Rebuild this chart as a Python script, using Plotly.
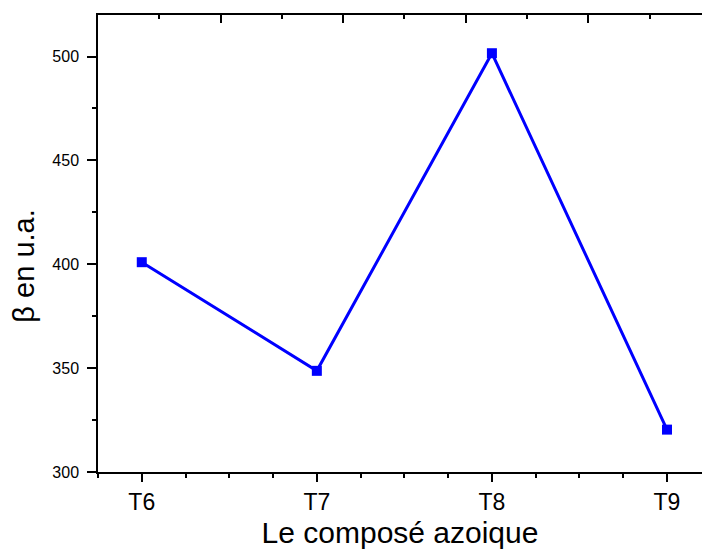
import plotly.graph_objects as go

categories = ["T6", "T7", "T8", "T9"]
beta_values = [401.0, 348.7, 501.6, 320.4]
y_tick_values = [300, 350, 400, 450, 500]

x_pos = list(range(len(categories)))

fig = go.Figure()
fig.add_trace(go.Scatter(
    x=x_pos, y=beta_values, mode="lines+markers",
    line=dict(color="#0000FF", width=3),
    marker=dict(symbol="square", size=10, color="#0000FF"),
    showlegend=False,
))
# invisible trace to activate the top axis
fig.add_trace(go.Scatter(x=[0], y=[300], xaxis="x2", mode="markers",
                         marker=dict(opacity=0), showlegend=False, hoverinfo="skip"))

font = "Liberation Sans, Arial, sans-serif"
fig.update_layout(
    width=702, height=553,
    margin=dict(l=98, r=0, t=15, b=81),
    paper_bgcolor="white", plot_bgcolor="white",
    font=dict(family=font, color="black"),
    xaxis=dict(
        range=[-0.25, 3.2], tickmode="array", tickvals=x_pos, ticktext=categories,
        showline=True, linecolor="black", linewidth=1.5, mirror=False,
        ticks="outside", ticklen=8, tickwidth=1.5, tickcolor="black",
        minor=dict(tickmode="linear", tick0=-0.25, dtick=0.25, ticks="outside",
                   ticklen=4, tickwidth=1.5, tickcolor="black"),
        showgrid=False, zeroline=False, automargin=False,
        tickfont=dict(size=23, family=font),
        ticklabelstandoff=1,
        title=dict(text="Le composé azoique", font=dict(size=30, family=font), standoff=8),
    ),
    xaxis2=dict(
        overlaying="x", side="top", range=[0, 4.927],
        showline=True, linecolor="black", linewidth=1.5,
        ticks="inside", ticklen=8, tickwidth=1.5, tickcolor="black",
        tickmode="linear", tick0=0, dtick=1, showticklabels=False,
        minor=dict(tickmode="linear", tick0=0, dtick=0.5, ticks="inside",
                   ticklen=4, tickwidth=1.5, tickcolor="black"),
        showgrid=False, zeroline=False, automargin=False,
    ),
    yaxis=dict(
        range=[300, 520], tickmode="array", tickvals=y_tick_values,
        showline=True, linecolor="black", linewidth=1.5, mirror=False,
        ticks="outside", ticklen=9, tickwidth=1.5, tickcolor="black",
        minor=dict(tickmode="linear", tick0=300, dtick=25, ticks="outside",
                   ticklen=4, tickwidth=1.5, tickcolor="black"),
        showgrid=False, zeroline=False, automargin=False,
        tickfont=dict(size=16, family=font),
        ticklabelstandoff=5,
    ),
    annotations=[dict(
        text="β en u.a.", textangle=-90, showarrow=False,
        xref="paper", yref="paper", x=-0.122, y=0.45,
        xanchor="center", yanchor="middle",
        font=dict(size=29, family=font, color="black"),
    )],
)

fig.write_html("out.html", post_script="document.body.style.margin='0';",
               config={"displayModeBar": False})
